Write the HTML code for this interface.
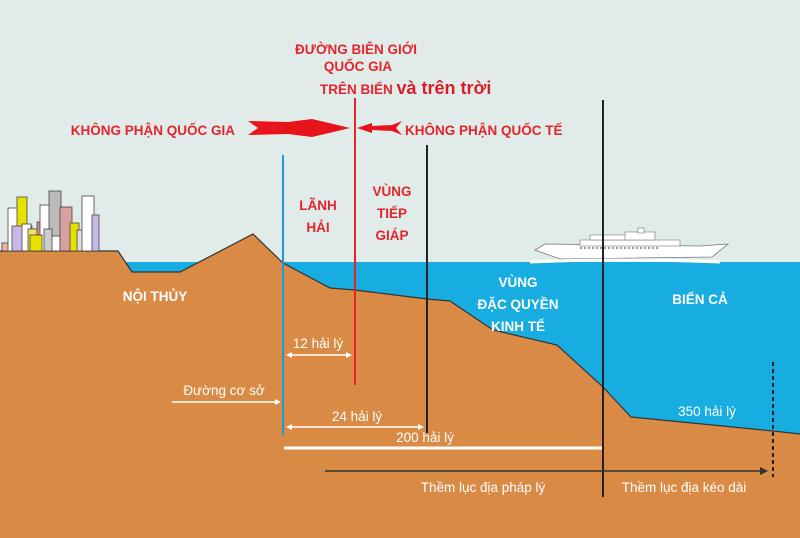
<!DOCTYPE html>
<html><head><meta charset="utf-8"><style>
html,body{margin:0;padding:0;background:#e1ecea}
svg{display:block}
text{font-family:"Liberation Sans",sans-serif;font-weight:bold}
</style></head><body>
<svg width="800" height="538" viewBox="0 0 800 538" xmlns="http://www.w3.org/2000/svg">
<rect width="800" height="538" fill="#e1ecea"/>
<rect x="120" y="262" width="680" height="276" fill="#17ade0"/>
<polygon fill="#d98a45" points="0,251 118,251 132,272 180,272 253,234 283,263 330,288 355,290 427,299 450,301 493,330 557,345 603,387 631,417 773,431 800,434 800,538 0,538"/>
<polyline fill="none" stroke="#333" stroke-width="1.2" points="0,251 118,251 132,272 180,272 253,234 283,263 330,288 355,290 427,299 450,301 493,330 557,345 603,387 631,417 773,431 800,434"/>
<!-- buildings -->
<g stroke="#444" stroke-width="0.8">
<rect x="2" y="243" width="9" height="8" fill="#f0b0a0"/>
<rect x="8" y="208" width="14" height="43" fill="#fff"/>
<rect x="17" y="197" width="10" height="34" fill="#e8e000"/>
<rect x="12" y="226" width="20" height="25" fill="#c8b8e8"/>
<rect x="22" y="224" width="9" height="27" fill="#fff"/>
<rect x="28" y="229" width="12" height="22" fill="#f0e060"/>
<rect x="37" y="222" width="10" height="29" fill="#d88"/>
<rect x="40" y="205" width="20" height="46" fill="#fff"/>
<rect x="49" y="191" width="12" height="45" fill="#bbb"/>
<rect x="60" y="207" width="12" height="44" fill="#d9a0a0"/>
<rect x="44" y="229" width="8" height="22" fill="#ccc"/>
<rect x="70" y="223" width="9" height="28" fill="#e8e000"/>
<rect x="77" y="230" width="7" height="21" fill="#ddd"/>
<rect x="82" y="196" width="12" height="55" fill="#fff"/>
<rect x="92" y="215" width="7" height="36" fill="#c8b8e8"/>
<rect x="30" y="235" width="12" height="16" fill="#e8e000"/>
</g>
<!-- ship -->
<g>
<polygon points="535,250 545,244 700,246 728,244 712,257 560,259" fill="#fff" stroke="#777" stroke-width="0.8"/>
<rect x="580" y="240" width="100" height="6" fill="#fff" stroke="#777" stroke-width="0.6"/>
<rect x="590" y="235" width="40" height="5" fill="#fff" stroke="#777" stroke-width="0.6"/>
<rect x="625" y="232" width="30" height="8" fill="#fff" stroke="#777" stroke-width="0.6"/>
<rect x="638" y="228" width="6" height="5" fill="#fff" stroke="#777" stroke-width="0.6"/>
<line x1="580" y1="248" x2="660" y2="248" stroke="#777" stroke-width="1.5" stroke-dasharray="2,2"/>
<path d="M530,262 Q620,258 720,262" stroke="#fff" stroke-width="3" fill="none"/>
</g>
<!-- vertical lines -->
<line x1="283" y1="155" x2="283" y2="435" stroke="#1a9be0" stroke-width="2"/>
<line x1="355" y1="98" x2="355" y2="385" stroke="#e3242b" stroke-width="2"/>
<line x1="427" y1="145" x2="427" y2="433" stroke="#222" stroke-width="2"/>
<line x1="603" y1="100" x2="603" y2="497" stroke="#222" stroke-width="2"/>
<line x1="773" y1="362" x2="773" y2="477" stroke="#222" stroke-width="2" stroke-dasharray="4,3"/>
<!-- red arrows -->
<polygon fill="#e8141b" points="248,121 288,122 312,119 350,128 312,137 288,134 248,135 258,128"/>
<polygon fill="#e8141b" points="357,128 372,123 372,126 392,125 402,121 396,128 402,135 392,131 372,130 372,133"/>
<!-- top text -->
<g fill="#e3242b" font-size="13.5">
<text x="356" y="54" text-anchor="middle">ĐƯỜNG BIÊN GIỚI</text>
<text x="358" y="71" text-anchor="middle">QUỐC GIA</text>
<text x="320" y="94">TRÊN BIỂN <tspan font-size="18" fill="#d81e25">và trên trời</tspan></text>
<text x="235" y="135" text-anchor="end">KHÔNG PHẬN QUỐC GIA</text>
<text x="405" y="135">KHÔNG PHẬN QUỐC TẾ</text>
<text x="318" y="210" text-anchor="middle">LÃNH</text>
<text x="318" y="232" text-anchor="middle">HẢI</text>
<text x="392" y="196" text-anchor="middle">VÙNG</text>
<text x="392" y="218" text-anchor="middle">TIẾP</text>
<text x="392" y="240" text-anchor="middle">GIÁP</text>
</g>
<g fill="#fff" font-size="13.5">
<text x="155" y="301" text-anchor="middle">NỘI THỦY</text>
<text x="518" y="287" text-anchor="middle">VÙNG</text>
<text x="518" y="309" text-anchor="middle">ĐẶC QUYỀN</text>
<text x="518" y="331" text-anchor="middle">KINH TẾ</text>
<text x="700" y="304" text-anchor="middle">BIỂN CẢ</text>
</g>
<g fill="#fff" font-size="13.5">
<text x="318" y="348" text-anchor="middle" style="font-weight:normal">12 hải lý</text>
<text x="224" y="395" text-anchor="middle" style="font-weight:normal">Đường cơ sở</text>
<text x="357" y="421" text-anchor="middle" style="font-weight:normal">24 hải lý</text>
<text x="425" y="442" text-anchor="middle" style="font-weight:normal">200 hải lý</text>
<text x="707" y="416" text-anchor="middle" style="font-weight:normal">350 hải lý</text>
<text x="483" y="492" text-anchor="middle" style="font-weight:normal">Thềm lục địa pháp lý</text>
<text x="684" y="492" text-anchor="middle" style="font-weight:normal">Thềm lục địa kéo dài</text>
</g>
<!-- white arrows -->
<g stroke="#fff" stroke-width="1.5" fill="#fff">
<line x1="288" y1="355" x2="350" y2="355"/>
<polygon points="286,355 292,352 292,358" stroke="none"/>
<polygon points="352,355 346,352 346,358" stroke="none"/>
<line x1="172" y1="402" x2="276" y2="402"/>
<polygon points="281,402 275,399 275,405" stroke="none"/>
<line x1="290" y1="427" x2="420" y2="427"/>
<polygon points="286,427 292,424 292,430" stroke="none"/>
<polygon points="424,427 418,424 418,430" stroke="none"/>
<line x1="284" y1="448" x2="602" y2="448" stroke-width="3"/>
</g>
<line x1="325" y1="471" x2="762" y2="471" stroke="#333" stroke-width="1.5"/>
<polygon points="768,471 760,467 760,475" fill="#333"/>
</svg>
</body></html>
